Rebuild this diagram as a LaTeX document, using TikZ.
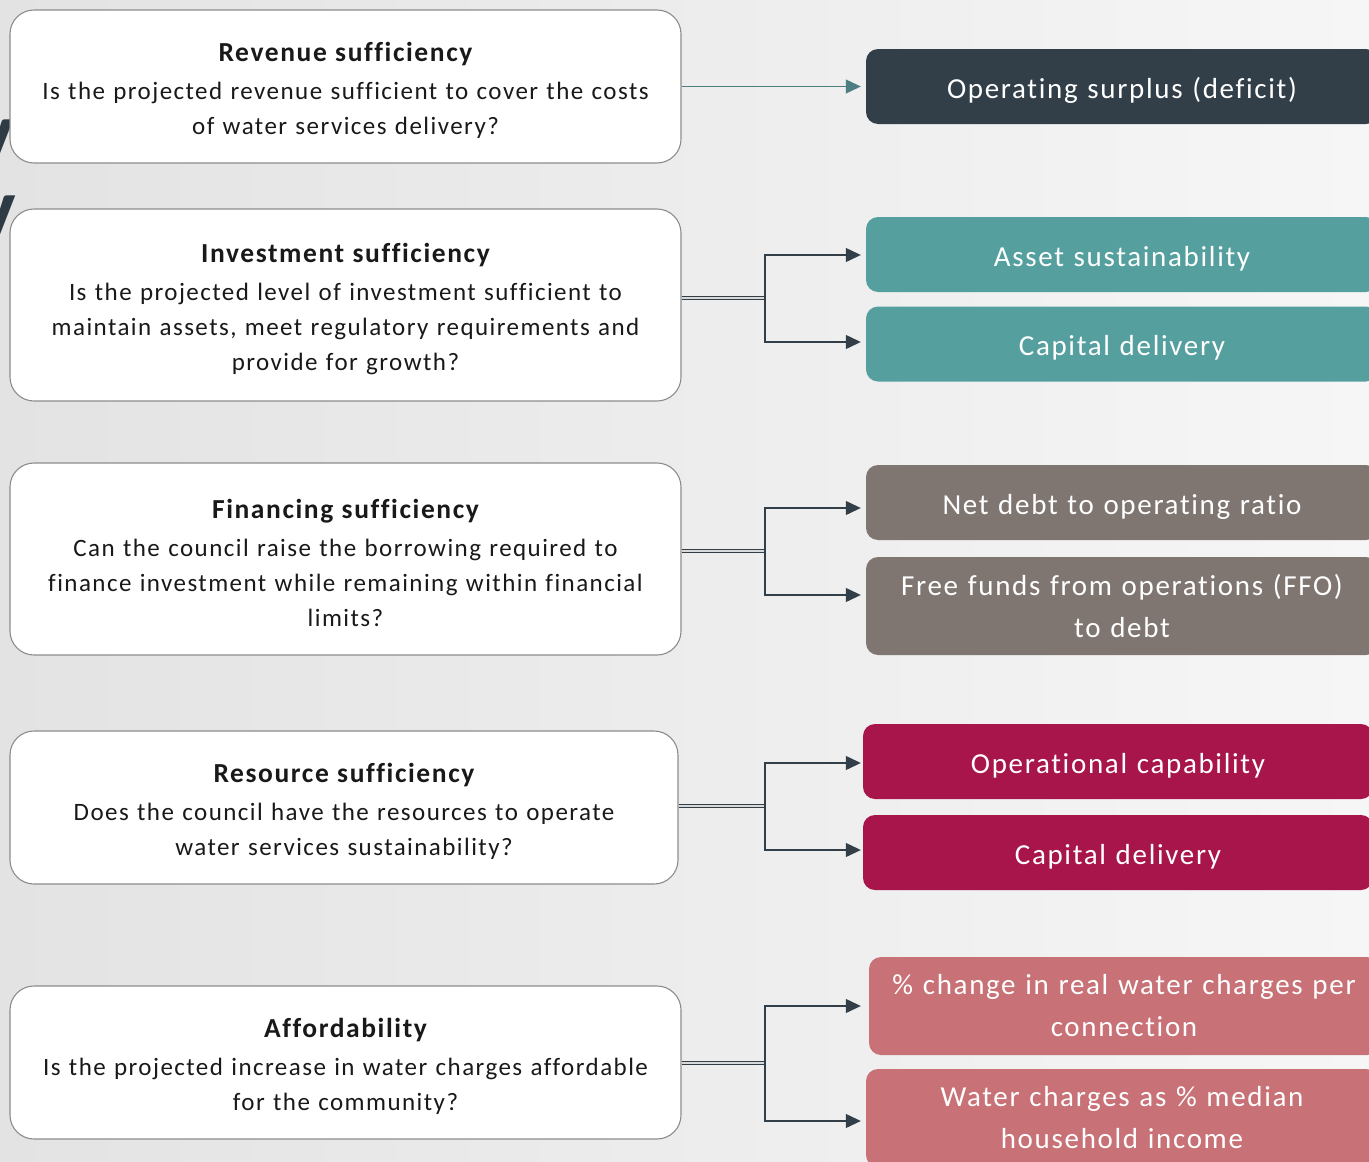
\documentclass[tikz,border=0pt]{standalone}
\usepackage{fontspec}
\setmainfont{Carlito}[Ligatures=NoCommon, LetterSpace=5.8]
\usetikzlibrary{arrows.meta}
\definecolor{bgL}{HTML}{E3E3E3}
\definecolor{bgR}{HTML}{F6F6F6}
\definecolor{boxline}{HTML}{8C8C8C}
\definecolor{arrowc}{HTML}{333F48}
\definecolor{arrowt}{HTML}{4D7F82}
\definecolor{cDark}{HTML}{323F48}
\definecolor{cTeal}{HTML}{55A09F}
\definecolor{cGrey}{HTML}{7F7672}
\definecolor{cCrim}{HTML}{A8154A}
\definecolor{cPink}{HTML}{C87176}
\definecolor{glyph}{HTML}{2E3B45}
\tikzset{
  qbox/.style={draw=boxline, fill=white, line width=1.1pt, rounded corners=24pt,
    minimum width=671pt, minimum height=153pt, inner sep=0pt, text width=664pt,
    align=center, font=\fontsize{25}{35}\selectfont, text=black!90},
  rbox/.style={fill=#1, rounded corners=12pt, minimum width=512pt, minimum height=75pt,
    inner sep=0pt, text width=500pt, align=center, text=white,
    font=\fontsize{29}{42}\selectfont},
  one/.style={text height=30pt, text depth=7pt},
  conn/.style={draw=arrowc, line width=1.2pt, -{Triangle[length=15pt,width=14pt]}, shorten >=5pt},
  dbl/.style={draw=arrowc, double=gray!30, double distance=1.3pt, line width=1pt},
}
\newcommand{\ttl}[1]{{\bfseries\fontsize{27.5}{38}\selectfont\rule{0pt}{28pt}#1}\\[3pt]}
\begin{document}
\begin{tikzpicture}[x=1pt,y=-1pt]
\useasboundingbox (0,0) rectangle (1369,1162);
\clip (0,0) rectangle (1369,1162);
\shade[left color=bgL, right color=bgR] (0,0) rectangle (1369,1162);
% background glyph fragments
\node[anchor=base east, inner sep=0pt, text=glyph, font=\bfseries\fontsize{88}{88}\selectfont] (g1) at (14,162) {y};
\node[anchor=base east, inner sep=0pt, text=glyph, font=\bfseries\fontsize{88}{88}\selectfont] (g2) at (16,238) {y};
% question boxes
\node[qbox] (q1) at (345.5,86.5) {\ttl{Revenue sufficiency}Is the projected revenue sufficient to cover the costs\\ of water services delivery?};
\node[qbox, minimum height=192pt] (q2) at (345.5,305) {\ttl{Investment sufficiency}Is the projected level of investment sufficient to\\ maintain assets, meet regulatory requirements and\\ provide for growth?};
\node[qbox, minimum height=192pt] (q3) at (345.5,559) {\ttl{Financing sufficiency}Can the council raise the borrowing required to\\ finance investment while remaining within financial\\ limits?};
\node[qbox, minimum width=668pt] (q4) at (344,807.5) {\ttl{Resource sufficiency}Does the council have the resources to operate\\ water services sustainability?};
\node[qbox] (q5) at (345.5,1062.5) {\ttl{Affordability}Is the projected increase in water charges affordable\\ for the community?};
% indicator boxes
\node[rbox=cDark, one] (r1) at (1122,86.5) {Operating surplus (deficit)};
\node[rbox=cTeal, one] (r2) at (1122,254.5) {Asset sustainability};
\node[rbox=cTeal, one] (r3) at (1122,344) {Capital delivery};
\node[rbox=cGrey, one] (r4) at (1122,502.5) {Net debt to operating ratio};
\node[rbox=cGrey, minimum height=98pt] (r5) at (1122,606) {Free funds from operations (FFO)\\ to debt};
\node[rbox=cCrim, one, minimum width=510pt] (r6) at (1118,761.5) {Operational capability};
\node[rbox=cCrim, one, minimum width=510pt] (r7) at (1118,852.5) {Capital delivery};
\node[rbox=cPink, minimum width=510pt, minimum height=98pt] (r8) at (1124,1006) {\% change in real water charges per\\ connection};
\node[rbox=cPink, minimum height=98pt] (r9) at (1122,1118) {Water charges as \% median\\ household income};
% connectors
\draw[conn, draw=arrowt, line width=1.1pt] (q1.east) -- (r1.west);
\coordinate (j2) at (765,298);
\coordinate (j3) at (765,551);
\coordinate (j4) at (765,806);
\coordinate (j5) at (765,1063);
\draw[dbl] (q2.east |- j2) -- (j2);
\draw[dbl] (q3.east |- j3) -- (j3);
\draw[dbl] (q4.east |- j4) -- (j4);
\draw[dbl] (q5.east |- j5) -- (j5);
\draw[conn] (j2) |- (r2.west |- 0,255);
\draw[conn] (j2) |- (r3.west |- 0,342);
\draw[conn] (j3) |- (r4.west |- 0,508);
\draw[conn] (j3) |- (r5.west |- 0,595);
\draw[conn] (j4) |- ([xshift=3pt]r6.west |- 0,763);
\draw[conn] (j4) |- ([xshift=3pt]r7.west |- 0,850);
\draw[conn] (j5) |- ([xshift=-3pt]r8.west |- 0,1006);
\draw[conn] (j5) |- (r9.west |- 0,1121);
\end{tikzpicture}
\end{document}
